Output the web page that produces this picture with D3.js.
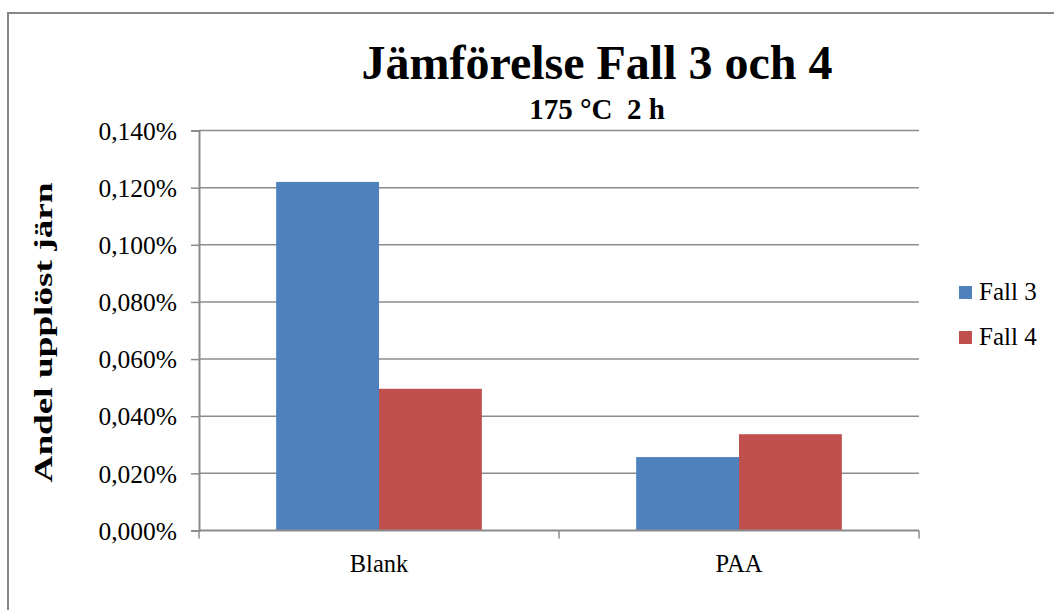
<!DOCTYPE html>
<html lang="sv">
<head>
<meta charset="utf-8" />
<title>Jämförelse Fall 3 och 4</title>
<script src="https://cdn.jsdelivr.net/npm/d3@7"></script>
<style>
  body { margin: 0; background: #fff; }
  svg { display: block; }
  svg text { font-family: "Liberation Serif", "Times New Roman", serif; fill: #000; }
</style>
</head>
<body>
<svg id="chart" width="1054" height="610"></svg>
<script>
// data (share of dissolved iron, in %)
const categories = ["Blank", "PAA"];
const series = ["Fall 3", "Fall 4"];
const fall3 = [0.122, 0.0257];
const fall4 = [0.0496, 0.0337];
const yTicks = [0, 0.02, 0.04, 0.06, 0.08, 0.10, 0.12, 0.14];
const colors = ["#4f81bd", "#c0504d"];

const values = { "Fall 3": fall3, "Fall 4": fall4 };
const rows = categories.map((c, i) => ({ cat: c, vals: series.map(s => ({ s, v: values[s][i] })) }));

const svg = d3.select("#chart");
const margin = { top: 130.5, right: 135, bottom: 79.5, left: 199 };
const width = +svg.attr("width");
const height = +svg.attr("height");

const locale = d3.formatLocale({ decimal: ",", thousands: " ", grouping: [3], currency: ["", ""] });
const fmt = d => locale.format(".3f")(d) + "%";

// outer frame
svg.append("rect")
  .attr("x", 8).attr("y", 13)
  .attr("width", width + 20).attr("height", height + 20)
  .attr("fill", "none").attr("stroke", "#878787").attr("stroke-width", 2);

const x0 = d3.scaleBand()
  .domain(categories)
  .range([margin.left, width - margin.right])
  .padding(0);

const x1 = d3.scaleBand()
  .domain(series)
  .range([0, x0.bandwidth()])
  .paddingInner(0)
  .paddingOuter(0.75);

const y = d3.scaleLinear()
  .domain([0, 0.14])
  .range([height - margin.bottom, margin.top]);

// gridlines
svg.append("g")
  .selectAll("line")
  .data(yTicks.slice(1))
  .join("line")
    .attr("x1", margin.left).attr("x2", width - margin.right)
    .attr("y1", d => y(d)).attr("y2", d => y(d))
    .attr("stroke", "#8c8c8c").attr("stroke-width", 1.5);

// bars
svg.append("g")
  .selectAll("g")
  .data(rows)
  .join("g")
    .attr("transform", d => `translate(${x0(d.cat)},0)`)
  .selectAll("rect")
  .data(d => d.vals)
  .join("rect")
    .attr("x", d => x1(d.s))
    .attr("y", d => y(d.v))
    .attr("width", x1.bandwidth())
    .attr("height", d => y(0) - y(d.v))
    .attr("fill", d => colors[series.indexOf(d.s)]);

// y axis
const yAxis = svg.append("g")
  .attr("transform", `translate(${margin.left},0)`)
  .call(d3.axisLeft(y).tickValues(yTicks).tickFormat(fmt).tickSize(8).tickPadding(14));
yAxis.attr("font-family", null).attr("font-size", null);
yAxis.select(".domain").attr("stroke", "#8c8c8c").attr("stroke-width", 2);
yAxis.selectAll(".tick line").attr("stroke", "#8c8c8c").attr("stroke-width", 1.5);
yAxis.selectAll(".tick text")
  .attr("font-size", "25.5px").attr("dy", "0.34em");

// x axis: ticks at the category boundaries
const xAxis = svg.append("g")
  .attr("transform", `translate(0,${y(0)})`);
xAxis.append("line")
  .attr("x1", margin.left).attr("x2", width - margin.right)
  .attr("stroke", "#8c8c8c").attr("stroke-width", 2);
const bounds = categories.map(c => x0(c)).concat([x0(categories[categories.length - 1]) + x0.bandwidth()]);
xAxis.selectAll(".xtick")
  .data(bounds)
  .join("line")
    .attr("class", "xtick")
    .attr("x1", d => d).attr("x2", d => d)
    .attr("y1", 0).attr("y2", 8)
    .attr("stroke", "#8c8c8c").attr("stroke-width", 1.5);
xAxis.selectAll(".xlabel")
  .data(categories)
  .join("text")
    .attr("class", "xlabel")
    .attr("x", d => x0(d) + x0.bandwidth() / 2)
    .attr("y", 41)
    .attr("text-anchor", "middle")
    .attr("font-size", "24.5px")
    .text(d => d);

// y axis title (stretched along its length like the original)
svg.append("text")
  .attr("transform", `translate(52,${(margin.top + y(0)) / 2 + 2}) rotate(-90)`)
  .attr("text-anchor", "middle")
  .attr("font-weight", "bold")
  .attr("font-size", "25px")
  .attr("textLength", 300)
  .attr("lengthAdjust", "spacingAndGlyphs")
  .text("Andel upplöst järn");

// titles
svg.append("text")
  .attr("x", 597).attr("y", 79)
  .attr("text-anchor", "middle")
  .attr("font-weight", "bold")
  .attr("font-size", "48px")
  .text("Jämförelse Fall 3 och 4");
svg.append("text")
  .attr("x", 597).attr("y", 119)
  .attr("text-anchor", "middle")
  .attr("font-weight", "bold")
  .attr("font-size", "29px")
  .attr("xml:space", "preserve")
  .text("175 °C  2 h");

// legend
const legend = svg.append("g")
  .selectAll("g")
  .data(series)
  .join("g")
    .attr("transform", (d, i) => `translate(959,${286 + i * 45})`);
legend.append("rect")
  .attr("width", 13).attr("height", 13)
  .attr("fill", (d, i) => colors[i]);
legend.append("text")
  .attr("x", 20).attr("y", 14)
  .attr("font-size", "25px")
  .text(d => d);
</script>
</body>
</html>
